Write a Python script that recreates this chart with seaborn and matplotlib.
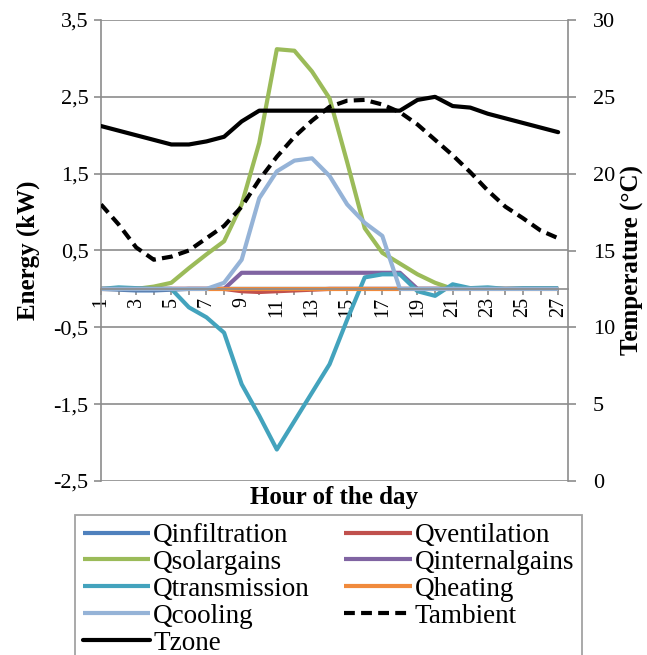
import numpy as np
import pandas as pd
import matplotlib
matplotlib.use("Agg")
import matplotlib.pyplot as plt
import seaborn as sns
from matplotlib.ticker import FixedLocator, FuncFormatter

hours = list(range(1, 28))

q_infiltration = [0, -0.01, -0.02, -0.02, -0.01] + [0] * 22
q_ventilation = [0] * 8 + [-0.03, -0.04, -0.03, -0.02, -0.01] + [0] * 14
q_solargains = [0, 0, 0, 0.03, 0.08, 0.27, 0.45, 0.62, 1.1, 1.9,
                3.12, 3.10, 2.83, 2.48, 1.65, 0.79, 0.47, 0.33, 0.19, 0.08,
                0, 0, 0, 0, 0, 0, 0]
q_internalgains = [0] * 8 + [0.21] * 10 + [0] * 9
q_transmission = [0, 0.02, 0.01, 0, 0, -0.24, -0.37, -0.57, -1.24, -1.65,
                  -2.09, -1.72, -1.35, -0.98, -0.40, 0.15, 0.19, 0.19, -0.03, -0.09,
                  0.06, 0.01, 0.02, 0.0, 0.01, 0.01, 0.01]
q_heating = [0] * 27
q_cooling = [0] * 7 + [0.08, 0.38, 1.18, 1.53, 1.67, 1.70, 1.47, 1.10, 0.86, 0.69] + [0] * 10

t_ambient = [18.0, 16.7, 15.2, 14.4, 14.6, 15.0, 15.8, 16.6, 17.85, 19.6,
             21.1, 22.4, 23.45, 24.35, 24.75, 24.8, 24.5, 24.0, 23.2, 22.2,
             21.2, 20.1, 18.9, 17.85, 17.1, 16.3, 15.8]
t_zone = [23.1, 22.8, 22.5, 22.2, 21.9, 21.9, 22.1, 22.4, 23.4, 24.1,
          24.1, 24.1, 24.1, 24.1, 24.1, 24.1, 24.1, 24.1, 24.8, 25.0,
          24.4, 24.3, 23.9, 23.6, 23.3, 23.0, 22.7]

energy_series = [
    ("Qinfiltration", q_infiltration, "#4F81BD"),
    ("Qventilation", q_ventilation, "#C0504D"),
    ("Qsolargains", q_solargains, "#9BBB59"),
    ("Qinternalgains", q_internalgains, "#8064A2"),
    ("Qtransmission", q_transmission, "#43A3BD"),
    ("Qheating", q_heating, "#F08A3C"),
    ("Qcooling", q_cooling, "#95B3D7"),
]

sns.set_theme(style="white")
plt.rcParams["font.family"] = ["Liberation Serif", "DejaVu Serif"]
plt.rcParams["text.color"] = "black"
plt.rcParams["axes.labelcolor"] = "black"
plt.rcParams["xtick.color"] = "black"
plt.rcParams["ytick.color"] = "black"

GRID = "#8C8C8C"
fig = plt.figure(figsize=(6.47, 6.55), dpi=100)
ax = fig.add_axes([101 / 647, 1 - 481 / 655, (568 - 101) / 647, (481 - 20) / 655])
ax.set_facecolor("none")

LW = 3.0
for name, vals, col in energy_series:
    sns.lineplot(x=hours, y=vals, ax=ax, color=col, lw=LW, label=name,
                 solid_capstyle="butt", solid_joinstyle="round", legend=False)

ax.set_ylim(-2.5, 3.5)
ax.set_xlim(1, 27.56)
ax.yaxis.set_major_locator(FixedLocator([-2.5, -1.5, -0.5, 0.5, 1.5, 2.5, 3.5]))
ax.yaxis.set_major_formatter(FuncFormatter(lambda v, p: f"{v:.1f}".replace(".", ",")))
ax.grid(axis="y", color=GRID, lw=1.2)
ax.grid(axis="x", visible=False)
ax.set_axisbelow(True)

ax.spines["bottom"].set_position(("data", 0))
ax.spines["bottom"].set_color(GRID)
ax.spines["bottom"].set_linewidth(1.2)
ax.spines["left"].set_color(GRID)
ax.spines["left"].set_linewidth(1.2)
ax.spines["top"].set_visible(False)
ax.spines["right"].set_visible(False)

ax.xaxis.set_major_locator(FixedLocator(list(range(1, 28, 2))))
ax.xaxis.set_minor_locator(FixedLocator(list(range(2, 28, 2))))
ax.set_xticklabels([str(h) for h in range(1, 28, 2)], rotation=90)
ax.tick_params(axis="x", which="both", direction="out", length=4, width=1.2,
               color=GRID, labelcolor="black", labelsize=14.5, pad=2, bottom=True)
ax.tick_params(axis="y", direction="out", length=5, width=1.2, color=GRID,
               labelcolor="black", labelsize=16, pad=4, left=True)
ax.set_xlabel("")
ax.set_ylabel("Energy (kW)", fontsize=18, fontweight="bold", color="black")
ax.yaxis.set_label_coords(-0.13, 0.5)
ax.text(0.5, -0.035, "Hour of the day", transform=ax.transAxes, ha="center", va="center",
        fontsize=18, fontweight="bold", color="black")

ax2 = ax.twinx()
sns.lineplot(x=hours, y=t_ambient, ax=ax2, color="black", lw=LW, label="Tambient",
             dashes=False, legend=False)
ax2.lines[-1].set_linestyle((0, (2.6, 1.5)))
ax2.lines[-1].set_dash_capstyle("butt")
sns.lineplot(x=hours, y=t_zone, ax=ax2, color="black", lw=LW, label="Tzone", legend=False,
             solid_joinstyle="round")
ax2.set_ylim(0, 30)
ax2.set_yticks([0, 5, 10, 15, 20, 25, 30])
ax2.grid(False)
for s in ["left", "top", "bottom"]:
    ax2.spines[s].set_visible(False)
ax2.spines["right"].set_color(GRID)
ax2.spines["right"].set_linewidth(1.2)
ax2.tick_params(axis="y", direction="out", length=6, width=1.2, color=GRID,
                labelcolor="black", labelsize=16, pad=12, right=True)
ax2.set_ylabel("Temperature (°C)", fontsize=18, fontweight="bold", rotation=90, color="black")
ax2.yaxis.set_label_coords(1.113, 0.48)

handles = {}
for l in ax.lines + ax2.lines:
    lab = l.get_label()
    if not lab.startswith("_"):
        handles[lab] = l
order = ["Qinfiltration", "Qsolargains", "Qtransmission", "Qcooling", "Tzone",
         "Qventilation", "Qinternalgains", "Qheating", "Tambient"]
leg = fig.legend([handles[o] for o in order], order, ncol=2,
                 loc="upper left", bbox_to_anchor=(75 / 647, 1 - 522 / 655, (582 - 75) / 647, 0.01),
                 bbox_transform=fig.transFigure, mode="expand",
                 fontsize=19.5, frameon=True, fancybox=False, edgecolor=GRID,
                 handlelength=2.5, handletextpad=0.1, labelspacing=0.07,
                 borderpad=0.28, borderaxespad=0, columnspacing=0.5)
leg.get_frame().set_linewidth(1.3)
for t in leg.get_texts():
    t.set_color("black")

fig.savefig("out.png", dpi=100)
